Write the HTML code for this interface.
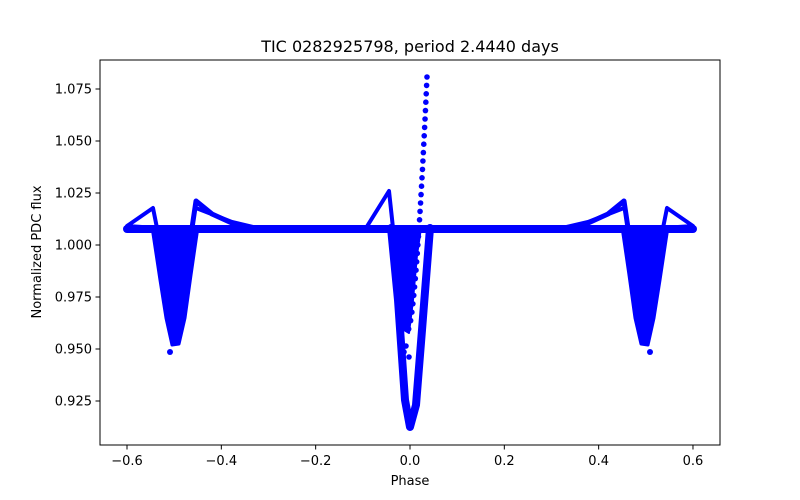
<!DOCTYPE html>
<html><head><meta charset="utf-8"><style>
html,body{margin:0;padding:0;background:#fff}
svg{display:block;font-family:"DejaVu Sans","Liberation Sans",sans-serif}
</style></head><body>
<svg id="s" width="800" height="500" viewBox="0 0 800 500" xmlns="http://www.w3.org/2000/svg">
<rect width="800" height="500" fill="#fff"/>
<g fill="#0000ff" stroke="#0000ff" stroke-linejoin="round" stroke-linecap="round">
  <path d="M127,229 L693,229" stroke-width="8" fill="none"/>
  <g id="side">
    <path d="M127,226 L153,208 L157,228 Z" stroke-width="4" fill="none"/>
    <path d="M152,227 L160,280 L166,318 L172,345 L179,344 L185,318 L191,275 L198,227 Z" stroke-width="3"/>
    <circle cx="170" cy="352" r="3" stroke="none"/>
    <path d="M192,228 L196,201 L212,214 L245,229" stroke-width="5" fill="none"/>
    <path d="M196,208 L232,222 L262,229" stroke-width="4" fill="none"/>
  </g>
  <use href="#side" transform="translate(820,0) scale(-1,1)"/>
  <path d="M366,228 L389,191 L393,228 Z" stroke-width="4" fill="none"/>
  <path d="M391,228 L398,300 L405,400 L410,427 L416,405 L422,330 L430,228" stroke-width="8" fill="none"/>
  <path d="M390,228 L398,285 L404,330 L409,333 L413,300 L417,255 L421,228 Z" stroke-width="2"/>
  <circle cx="404" cy="352" r="2.8" stroke="none"/>
  <circle cx="406" cy="346" r="2.8" stroke="none"/>
  <circle cx="409" cy="357" r="2.8" stroke="none"/>
  <g id="spike" stroke="none"></g>
</g>
<rect x="100" y="60" width="620" height="385" fill="none" stroke="#000" stroke-width="1"/>
<g id="ticks" stroke="#000" stroke-width="1"></g>
<g id="labels" font-size="13" fill="#000"></g>
<text x="410" y="52" font-size="16" text-anchor="middle">TIC 0282925798, period 2.4440 days</text>
<text x="410" y="485" font-size="13" text-anchor="middle">Phase</text>
<text x="0" y="0" font-size="13" text-anchor="middle" transform="translate(41,252) rotate(-90)">Normalized PDC flux</text>
</svg>
<script>
var ns="http://www.w3.org/2000/svg";
function el(p,t,a,txt){var e=document.createElementNS(ns,t);for(var k in a)e.setAttribute(k,a[k]);if(txt)e.textContent=txt;p.appendChild(e);}
var sp=document.getElementById("spike");
for(var k=0;k<=30;k++){var y=77+8.4*k;var t=(330-y)/253;var x=408+19*Math.pow(Math.max(t,0),0.6);el(sp,"circle",{cx:x,cy:y,r:2.8});}
var tk=document.getElementById("ticks"),lb=document.getElementById("labels");
var xs=["−0.6","−0.4","−0.2","0.0","0.2","0.4","0.6"];
for(var i=0;i<7;i++){var x=127+i*94.33;el(tk,"line",{x1:x,x2:x,y1:445,y2:449.5});el(lb,"text",{x:x,y:465,"text-anchor":"middle"},xs[i]);}
var ys=["0.925","0.950","0.975","1.000","1.025","1.050","1.075"];
for(var i=0;i<7;i++){var y=401-i*52;el(tk,"line",{x1:95.5,x2:100,y1:y,y2:y});el(lb,"text",{x:92,y:y+4.5,"text-anchor":"end"},ys[i]);}
</script>
</body></html>
